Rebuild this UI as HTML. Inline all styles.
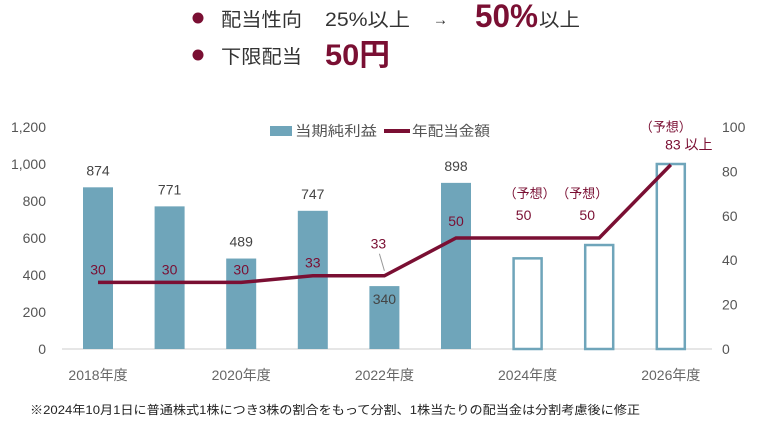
<!DOCTYPE html>
<html><head><meta charset="utf-8">
<style>
body{margin:0;background:#fff;width:757px;height:430px;overflow:hidden;font-family:"Liberation Sans","Noto Sans CJK JP",sans-serif;}
svg text{font-family:"Liberation Sans","Noto Sans CJK JP",sans-serif;}
</style></head><body>
<svg width="757" height="430">
<g>
<circle cx="198" cy="18" r="5.5" fill="#7a0f33"/>
<text x="221" y="26" font-size="19" fill="#333" textLength="81" lengthAdjust="spacingAndGlyphs">配当性向</text>
<text x="325" y="26" font-size="19" fill="#333" textLength="85" lengthAdjust="spacingAndGlyphs">25%以上</text>
<text x="433" y="25" font-size="17" fill="#333" textLength="15" lengthAdjust="spacingAndGlyphs">→</text>
<text x="475" y="27" font-size="32" font-weight="bold" fill="#7a0f33" textLength="63" lengthAdjust="spacingAndGlyphs">50%</text>
<text x="539" y="26" font-size="19" fill="#333" textLength="41" lengthAdjust="spacingAndGlyphs">以上</text>
<circle cx="198" cy="55" r="5.5" fill="#7a0f33"/>
<text x="221" y="63" font-size="19" fill="#333" textLength="81" lengthAdjust="spacingAndGlyphs">下限配当</text>
<text x="325" y="65" font-size="30" font-weight="bold" fill="#7a0f33" textLength="65" lengthAdjust="spacingAndGlyphs">50円</text>
</g>
<g>
<rect x="270" y="126" width="22" height="10" fill="#6fa5ba"/>
<text x="295" y="136" font-size="14" fill="#555" textLength="82" lengthAdjust="spacingAndGlyphs">当期純利益</text>
<rect x="384" y="129" width="26" height="4" fill="#7a0f33"/>
<text x="412" y="136" font-size="14" fill="#555" textLength="78" lengthAdjust="spacingAndGlyphs">年配当金額</text>
</g>
<g id="chart"></g>
<text x="30" y="414" font-size="12" fill="#222" textLength="610" lengthAdjust="spacingAndGlyphs">※2024年10月1日に普通株式1株につき3株の割合をもって分割、1株当たりの配当金は分割考慮後に修正</text>
</svg>
<script>
const years=["2018年度","2019年度","2020年度","2021年度","2022年度","2023年度","2024年度","2025年度","2026年度"];
const income=[874,771,489,747,340,898,490,562,1000];
const forecast=[false,false,false,false,false,false,true,true,true];
const dividend=[30,30,30,33,33,50,50,50,83];
const leftTicks=[0,200,400,600,800,1000,1200];
const rightTicks=[0,20,40,60,80,100];
const NS="http://www.w3.org/2000/svg";
const g=document.getElementById('chart');
const y0=349,yTop=127;
const yL=v=>y0-(v/1200)*(y0-yTop);
const yR=v=>y0-(v/100)*(y0-yTop);
const xC=i=>98+i*71.6;
function mk(t,a,txt){const e=document.createElementNS(NS,t);for(const k in a)e.setAttribute(k,a[k]);if(txt!==undefined)e.textContent=txt;g.appendChild(e);return e;}
leftTicks.forEach(v=>{const e=mk('text',{x:46,y:yL(v)+5,'font-size':14,fill:'#555','text-anchor':'end'},v.toLocaleString('en-US'));

});
rightTicks.forEach(v=>{const e=mk('text',{x:722,y:yR(v)+5,'font-size':14,fill:'#555'},v);

});
const ax=mk('line',{x1:62,x2:712,y1:y0,y2:y0,stroke:'#ccc','stroke-width':1});


years.forEach((yr,i)=>{
  const x=xC(i),top=yL(income[i]);
  let b;
  if(forecast[i]){b=mk('rect',{x:x-14,y:top,width:28,height:y0-top,fill:'none',stroke:'#6fa5ba','stroke-width':2.5});}
  else{b=mk('rect',{x:x-15,y:top,width:30,height:y0-top,fill:'#6fa5ba'});}
  
  
  if(!forecast[i]){
    const ly=i==4?top+18:top-12;
    const t=mk('text',{x:x,y:ly,'font-size':14,fill:'#444','text-anchor':'middle'},income[i]);
    
    
  }
  if(i%2==0){const t=mk('text',{x:x,y:380,'font-size':14,fill:'#666','text-anchor':'middle'},yr);
    
    }
});
const pts=dividend.map((v,i)=>xC(i)+','+yR(v)).join(' ');
const pl=mk('polyline',{points:pts,fill:'none',stroke:'#7a0f33','stroke-width':3.5});


dividend.forEach((v,i)=>{
  const x=xC(i),y=yR(v);
  let lx=x,ly=y-8,txt=String(v);
  if(i==4){lx=x-6;ly=y-27;const l=mk('line',{x1:x-5,y1:y-22,x2:x,y2:y-5,stroke:'#999','stroke-width':1});}
  if(i==5){ly=y-12;}
  if(i==6||i==7){lx=x+(i==6?-4:-12);ly=y-18;
    const f=mk('text',{x:x+(i==6?2:-17),y:ly-22,'font-size':13,fill:'#7a0f33','text-anchor':'middle'},'（予想）');
    
    }
  if(i==8){lx=x+18;ly=y-15;txt=v+'  以上';
    const f=mk('text',{x:x-5,y:ly-18,'font-size':13,fill:'#7a0f33','text-anchor':'middle'},'（予想）');
    
    }
  const t=mk('text',{x:lx,y:ly,'font-size':14,fill:'#7a0f33','text-anchor':'middle'},txt);
  
  
});
</script>
</body></html>
